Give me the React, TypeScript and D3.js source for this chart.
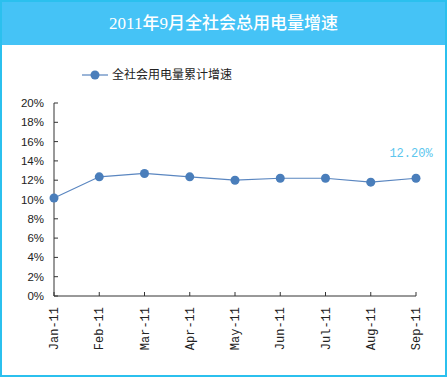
import React from "react";
import * as d3 from "d3";

const months = ["Jan-11", "Feb-11", "Mar-11", "Apr-11", "May-11", "Jun-11", "Jul-11", "Aug-11", "Sep-11"];
const growth = [10.15, 12.35, 12.7, 12.35, 12.0, 12.2, 12.2, 11.8, 12.2];
const yTicks = [0, 2, 4, 6, 8, 10, 12, 14, 16, 18, 20];
const title = "2011年9月全社会总用电量增速";
const seriesName = "全社会用电量累计增速";
const lastLabel = "12.20%";

export default function App() {
  const W = 447, H = 377;
  const x = d3.scalePoint<string>().domain(months).range([54, 416]);
  const y = d3.scaleLinear().domain([0, 20]).range([296, 103]);
  const line = d3.line<number>().x((_, i) => x(months[i])!).y((d) => y(d));
  const font = "'Liberation Mono', 'DejaVu Sans Mono', monospace";
  const last = growth.length - 1;
  return (
    <svg width={W} height={H} style={{ position: "absolute", left: 0, top: 0, display: "block" }}>
      <rect x={0} y={0} width={W} height={H} fill="#fff" />
      <rect x={0} y={0} width={W} height={45} fill="#45C3F6" />
      <rect x={1} y={1} width={W - 2} height={H - 2} fill="none" stroke="#2BC0EE" strokeWidth={2} />
      <text x={W / 2} y={29} textAnchor="middle" fill="#fff" fontSize={17} fontWeight={500}
        fontFamily="'Liberation Serif', 'Noto Sans CJK SC', serif">{title}</text>
      {/* legend */}
      <line x1={82} x2={108} y1={75} y2={75} stroke="#7A9CCB" strokeWidth={1.5} />
      <circle cx={95} cy={75} r={4.5} fill="#4A7EBB" />
      <text x={112} y={79} fontSize={12} fill="#222" fontFamily="'Noto Sans CJK SC', sans-serif">{seriesName}</text>
      {/* y axis */}
      <line x1={54} x2={54} y1={y(20)} y2={y(0)} stroke="#333" strokeWidth={1} />
      {yTicks.map((t) => (
        <g key={t}>
          <line x1={54} x2={58} y1={y(t)} y2={y(t)} stroke="#333" />
          <text x={44} y={y(t) + 4} textAnchor="end" fontSize={11.5} fill="#222"
            fontFamily="'Liberation Sans Narrow', 'Liberation Sans', sans-serif">{t + "%"}</text>
        </g>
      ))}
      {/* x axis */}
      <line x1={54} x2={416} y1={y(0)} y2={y(0)} stroke="#333" strokeWidth={1} />
      {months.map((m) => (
        <g key={m}>
          <line x1={x(m)!} x2={x(m)!} y1={y(0)} y2={y(0) - 4} stroke="#333" />
          <text transform={`translate(${x(m)! + 4},${307}) rotate(-90)`} textAnchor="end" fontSize={12}
            fill="#222" fontFamily={font}>{m}</text>
        </g>
      ))}
      <path d={line(growth)!} fill="none" stroke="#5A86C0" strokeWidth={1.2} />
      {growth.map((v, i) => (
        <circle key={i} cx={x(months[i])!} cy={y(v)} r={4.5} fill="#4A7EBB" />
      ))}
      <text x={x(months[last])! - 5} y={y(growth[last]) - 21} textAnchor="middle" fontSize={12}
        fill="#5CC6EE" fontFamily={font}>{lastLabel}</text>
    </svg>
  );
}
